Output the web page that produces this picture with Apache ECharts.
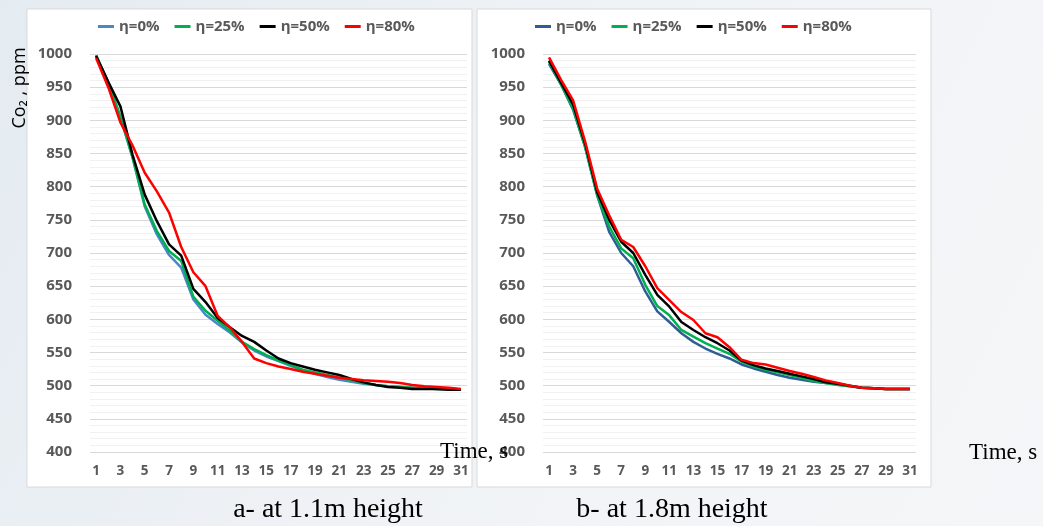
<!DOCTYPE html>
<html>
<head>
<meta charset="utf-8">
<script src="https://cdn.jsdelivr.net/npm/echarts@6/dist/echarts.min.js"></script>
<style>
html,body{margin:0;padding:0;background:#eef2f6;}
#c{width:1043px;height:526px;}
</style>
</head>
<body>
<div id="c"></div>
<script>
// ---- data ----
const categories = Array.from({length:31},(_,i)=>String(i+1));
const seriesNames = ['η=0%','η=25%','η=50%','η=80%'];
// a- at 1.1m height
const a_eta0  = [998,957,905,844,770,728,697,678,630,607,593,580,565,553,544,537,530,523,518,513,509,506,503,501,499,498,497,496,495,495,494];
const a_eta25 = [998,957,905,844,773,733,703,688,634,613,598,583,566,555,546,538,531,524,520,516,512,508,504,501,499,498,497,496,495,495,494];
const a_eta50 = [997,958,921,848,788,748,713,696,646,626,602,588,575,566,553,541,534,529,524,520,516,510,505,501,498,497,495,495,495,494,494];
const a_eta80 = [994,950,897,862,821,793,761,709,671,650,605,588,566,541,534,529,525,521,518,515,512,510,508,507,506,504,501,499,498,497,495];
// b- at 1.8m height
const b_eta0  = [985,954,916,860,787,732,700,680,642,612,596,579,566,556,548,541,532,526,521,516,512,509,506,504,502,499,497,496,495,495,495];
const b_eta25 = [988,954,918,860,787,740,707,692,652,620,606,584,574,564,556,548,536,529,524,520,516,512,507,504,501,499,497,496,495,495,495];
const b_eta50 = [990,957,924,865,792,750,717,700,667,637,619,596,584,573,564,553,538,531,526,522,518,514,510,505,503,500,497,496,495,495,495];
const b_eta80 = [995,961,930,868,797,757,720,709,680,647,629,611,599,579,573,558,539,534,532,527,522,518,513,508,504,500,497,496,495,495,495];
const yTicks = {min:400, max:1000, interval:50};

const colorsA = ['#4a86c8','#00b050','#000000','#ff0000'];
const colorsB = ['#2f5d95','#00b050','#000000','#ff0000'];

const labelFont = {color:'#595959', fontWeight:'bold', fontFamily:'Open Sans', fontSize:14};

function yAxis(gi){
  return {type:'value', gridIndex:gi, min:yTicks.min, max:yTicks.max, interval:yTicks.interval,
    axisLine:{show:false}, axisTick:{show:false},
    axisLabel:Object.assign({margin:18, formatter:v=>String(v)}, labelFont, {fontSize:15}),
    splitLine:{show:true, lineStyle:{color:'#d9d9d9', width:1}},
    minorTick:{show:false, splitNumber:5},
    minorSplitLine:{show:true, lineStyle:{color:'#f1f1f1', width:1}}};
}
function xAxis(gi){
  return {type:'category', gridIndex:gi, data:categories, boundaryGap:true,
    axisLine:{show:false}, axisTick:{show:false},
    axisLabel:Object.assign({interval:1, margin:12}, labelFont, {fontSize:13.5})};
}
function mk(prefix, arrs, colors, gi){
  return arrs.map((d,k)=>({name:prefix+seriesNames[k], type:'line', xAxisIndex:gi, yAxisIndex:gi,
    data:d, showSymbol:false, symbol:'none', lineStyle:{width:2.5, color:colors[k]}, itemStyle:{color:colors[k]}, z:3+k}));
}

const chart = echarts.init(document.getElementById('c'));
chart.setOption({
  backgroundColor:{type:'linear',x:0,y:0,x2:1,y2:1,colorStops:[{offset:0,color:'#e4ebf1'},{offset:0.5,color:'#f0f3f6'},{offset:1,color:'#f5f6f8'}]},
  animation:false,
  grid:[
    {left:90, top:54, width:377, height:398},
    {left:543, top:54, width:373, height:398}
  ],
  xAxis:[xAxis(0), xAxis(1)],
  yAxis:[yAxis(0), yAxis(1)],
  legend:[
    {left:93, top:14, icon:'rect', itemWidth:16, itemHeight:3, itemGap:15,
     data:seriesNames.map(n=>'a:'+n), formatter:n=>n.slice(2), textStyle:Object.assign({}, labelFont, {fontSize:15})},
    {left:530, top:14, icon:'rect', itemWidth:16, itemHeight:3, itemGap:15,
     data:seriesNames.map(n=>'b:'+n), formatter:n=>n.slice(2), textStyle:Object.assign({}, labelFont, {fontSize:15})}
  ],
  graphic:[
    {type:'rect', z:-10, shape:{x:27, y:9, width:445, height:478}, style:{fill:'#ffffff', stroke:'#d9d9d9', lineWidth:1}},
    {type:'rect', z:-10, shape:{x:477, y:9, width:454, height:478}, style:{fill:'#ffffff', stroke:'#d9d9d9', lineWidth:1}},
    {type:'text', z:10, x:20, y:88, rotation:Math.PI/2, style:{text:'Co₂ , ppm', fill:'#000', font:'18px "Open Sans"', textAlign:'center', textVerticalAlign:'middle'}},
    {type:'text', z:10, x:440, y:452, style:{text:'Time, s', fill:'#000', font:'23px "Liberation Serif"', textVerticalAlign:'middle'}},
    {type:'text', z:10, x:969, y:453, style:{text:'Time, s', fill:'#000', font:'23px "Liberation Serif"', textVerticalAlign:'middle'}},
    {type:'text', z:10, x:328, y:510, style:{text:'a- at 1.1m height', fill:'#000', font:'28px "Liberation Serif"', textAlign:'center', textVerticalAlign:'middle'}},
    {type:'text', z:10, x:672, y:510, style:{text:'b- at 1.8m height', fill:'#000', font:'28px "Liberation Serif"', textAlign:'center', textVerticalAlign:'middle'}}
  ],
  series:[].concat(mk('a:',[a_eta0,a_eta25,a_eta50,a_eta80],colorsA,0), mk('b:',[b_eta0,b_eta25,b_eta50,b_eta80],colorsB,1))
});
</script>
</body>
</html>
